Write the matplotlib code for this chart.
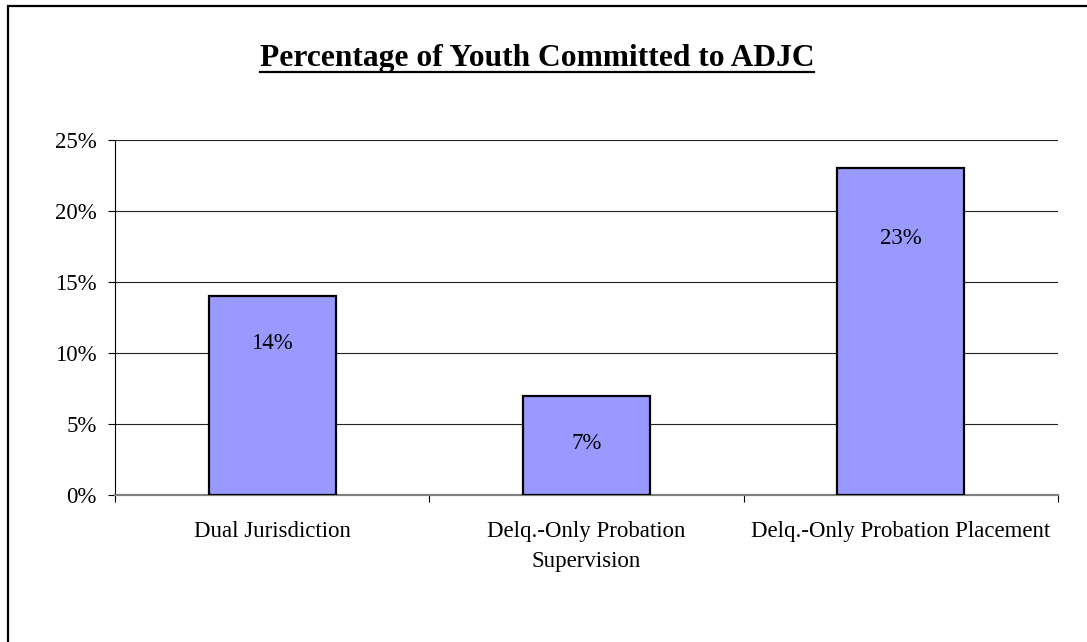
import matplotlib
matplotlib.use("Agg")
import matplotlib.pyplot as plt
import matplotlib.patches as patches
from matplotlib.lines import Line2D
from matplotlib.ticker import FixedLocator, PercentFormatter

categories = ["Dual Jurisdiction", "Delq.-Only Probation\nSupervision",
              "Delq.-Only Probation Placement"]
values = [14, 7, 23]
value_labels = ["14%", "7%", "23%"]
yticks = [0, 5, 10, 15, 20, 25]

W, H = 1087, 642
plt.rcParams["font.family"] = ["Liberation Serif", "DejaVu Serif"]

fig = plt.figure(figsize=(W / 100, H / 100), dpi=100)
ax = fig.add_axes([115 / W, 1 - 495 / H, (1058 - 115) / W, (495 - 140) / H])

x = range(len(categories))
bars = ax.bar(x, values, width=0.405, color="#9999FF", edgecolor="black",
              linewidth=1.6, zorder=3)

# labels sit a little below the top of each bar (offset in pixels)
label_drop = [47, 48, 70]
for b, lab, d in zip(bars, value_labels, label_drop):
    ax.annotate(lab, (b.get_x() + b.get_width() / 2, b.get_height()),
                xytext=(0, -d * 0.72), textcoords="offset points",
                ha="center", va="center", fontsize=16.5, zorder=4)

ax.set_xlim(-0.5, len(categories) - 0.5)
ax.set_ylim(0, 25)
ax.set_yticks(yticks)
ax.yaxis.set_major_formatter(PercentFormatter(decimals=0))
ax.yaxis.grid(True, color="#222222", linewidth=0.8, zorder=0)
ax.tick_params(axis="y", length=5, width=0.8, pad=8, labelsize=16.5)

ax.set_xticks(list(x))
ax.set_xticklabels(categories, fontsize=16.5, linespacing=1.55)
ax.tick_params(axis="x", which="major", length=0, pad=19)
ax.xaxis.set_minor_locator(FixedLocator([i - 0.5 for i in range(len(categories) + 1)]))
ax.tick_params(axis="x", which="minor", length=5, width=0.8, color="black")

for s in ["top", "right"]:
    ax.spines[s].set_visible(False)
ax.spines["left"].set_linewidth(0.8)
ax.spines["bottom"].set_color("#808080")
ax.spines["bottom"].set_linewidth(1.6)

# title with an underline
title = fig.text(537 / W, 1 - 66 / H, "Percentage of Youth Committed to ADJC",
                 ha="center", va="baseline", fontsize=22.7, fontweight="bold")
fig.canvas.draw()
bb = title.get_window_extent(renderer=fig.canvas.get_renderer())
uy = 1 - 72 / H
fig.add_artist(Line2D([bb.x0 / W, bb.x1 / W], [uy, uy], transform=fig.transFigure,
                      color="black", linewidth=1.6))

# outer frame (right/bottom edges fall outside the picture)
fig.patches.append(patches.Rectangle((7.5 / W, -0.1), 1.2, 1 - 5.5 / H + 0.1,
                                     transform=fig.transFigure, fill=False,
                                     edgecolor="black", linewidth=1.6))

fig.savefig("out.png", dpi=100)
